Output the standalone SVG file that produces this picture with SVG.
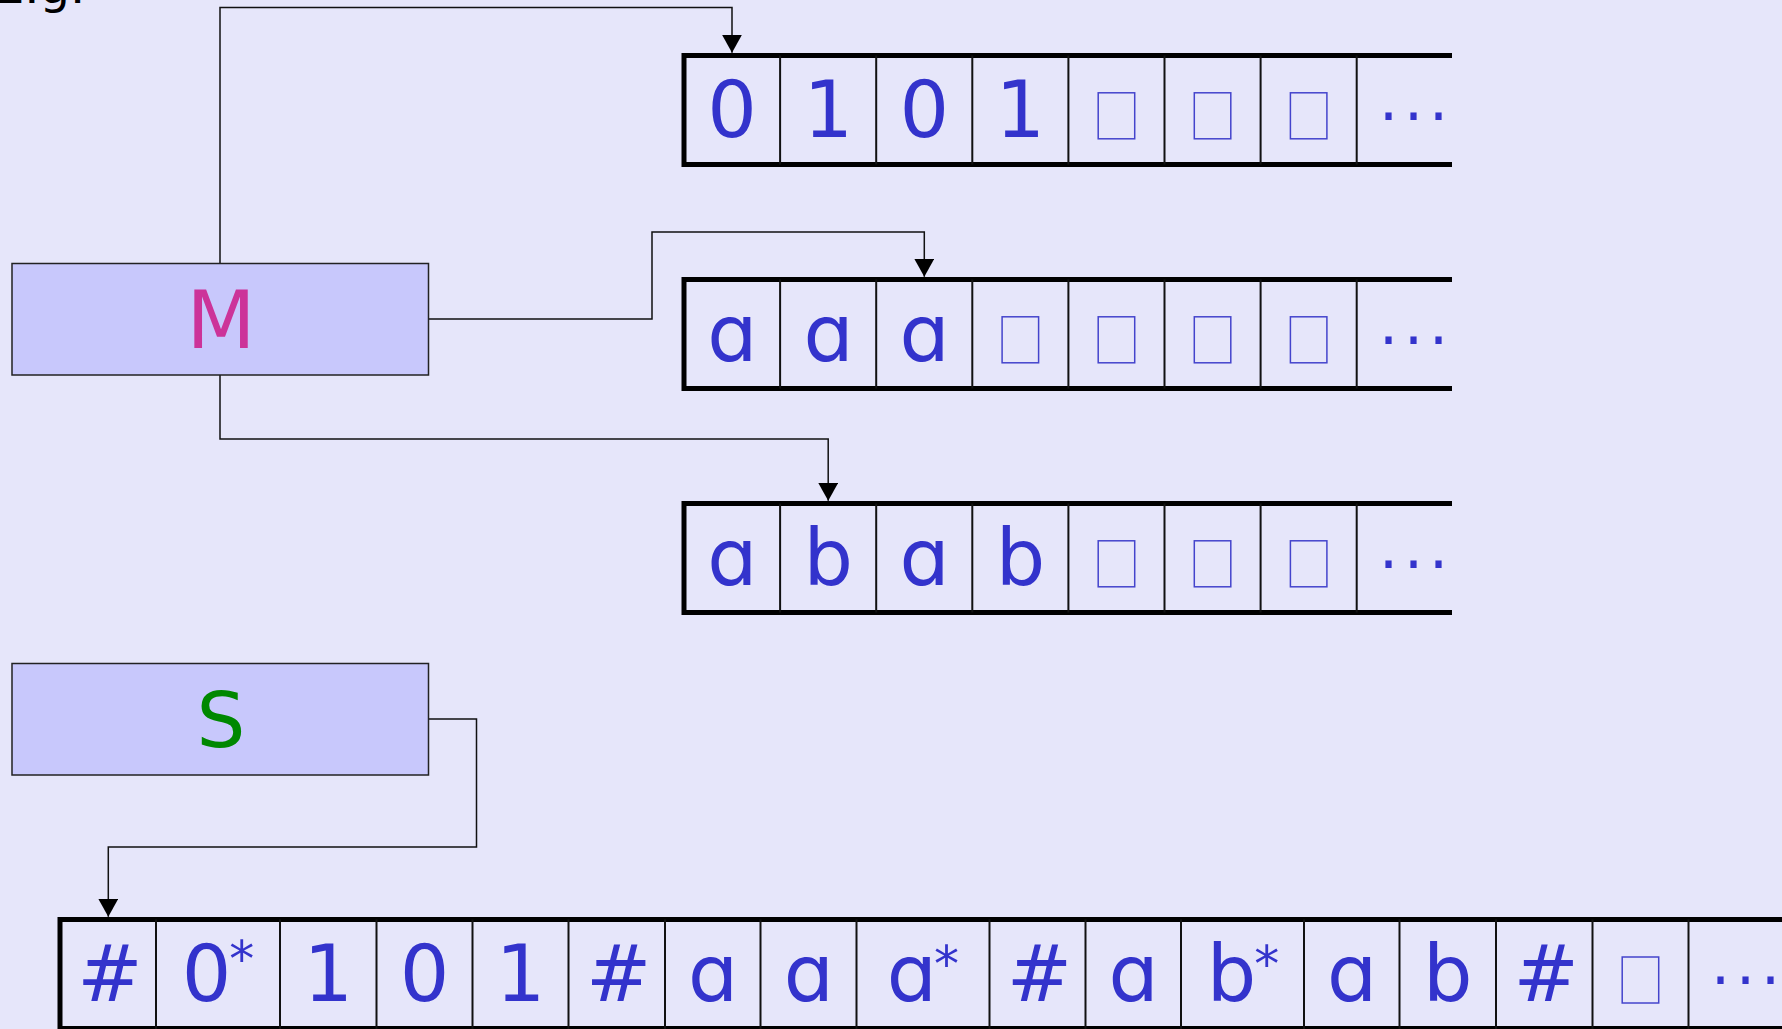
<svg xmlns="http://www.w3.org/2000/svg" width="1782" height="1029" viewBox="0 0 1782 1029">
<defs>
<style>
.bg{fill:#e6e6fa}
.box{fill:#c8c8fc;stroke:#222;stroke-width:1.5}
.thick{fill:none;stroke:#000;stroke-width:5;stroke-linejoin:miter}
.div{stroke:#111;stroke-width:2}
.sym{font-family:"DejaVu Sans",sans-serif;font-size:78px;fill:#3333cc;text-anchor:middle}
.a{font-family:"Inter","DejaVu Sans",sans-serif;font-feature-settings:"cv11" 1;font-size:80px}
.ast{font-family:"DejaVu Sans",sans-serif;font-size:50px;font-feature-settings:normal}
.blank{fill:none;stroke:#4444cc;stroke-width:1.5}
.dots{font-family:"DejaVu Sans",sans-serif;font-size:60px;fill:#3333cc}
.conn{fill:none;stroke:#111;stroke-width:1.5}
.lbl{font-family:"DejaVu Sans",sans-serif;text-anchor:middle}
</style>
<marker id="arr" markerUnits="userSpaceOnUse" markerWidth="18" markerHeight="20" viewBox="0 0 18 20" refX="18" refY="10" orient="auto">
<path d="M0,0 L18,10 L0,20 z" fill="#000"/>
</marker>
</defs>
<rect class="bg" x="0" y="0" width="1782" height="1029"/>
<text x="-6" y="3" font-family="DejaVu Sans, sans-serif" font-size="48" fill="#000">E.g.</text>

<g id="connectors">
<path class="conn" d="M220,263.5 V7.5 H732 V52.7" marker-end="url(#arr)"/>
<path class="conn" d="M428.5,319 H652 V232 H924.3 V276.8" marker-end="url(#arr)"/>
<path class="conn" d="M220,375 V439 H828.2 V500.8" marker-end="url(#arr)"/>
<path class="conn" d="M428.5,719 H476.5 V847 H108.3 V916.8" marker-end="url(#arr)"/>
</g>

<g id="M">
<rect class="box" x="12" y="263.5" width="416.5" height="111.5"/>
<text class="lbl" x="221" y="348" font-size="80" fill="#cc3399">M</text>
</g>

<g id="S">
<rect class="box" x="12" y="663.5" width="416.5" height="111.5"/>
<text class="lbl" x="221" y="747" font-size="77" fill="#008800">S</text>
</g>

<g id="tape1">
<path class="thick" d="M1452,55.5 H684 V164.5 H1452"/>
<path class="div" d="M780.1,55.5V164.5M876.2,55.5V164.5M972.3,55.5V164.5M1068.4,55.5V164.5M1164.5,55.5V164.5M1260.6,55.5V164.5M1356.7,55.5V164.5"/>
<text class="sym" x="732" y="137">0</text>
<text class="sym" x="828.2" y="137">1</text>
<text class="sym" x="924.3" y="137">0</text>
<text class="sym" x="1020.4" y="137">1</text>
<rect class="blank" x="1098.2" y="92.8" width="36.5" height="46"/>
<rect class="blank" x="1194.3" y="92.8" width="36.5" height="46"/>
<rect class="blank" x="1290.4" y="92.8" width="36.5" height="46"/>
<text class="dots" x="1379.1" y="120.4" dx="0 5.9 5.9">...</text>
</g>

<g id="tape2">
<path class="thick" d="M1452,279.5 H684 V388.5 H1452"/>
<path class="div" d="M780.1,279.5V388.5M876.2,279.5V388.5M972.3,279.5V388.5M1068.4,279.5V388.5M1164.5,279.5V388.5M1260.6,279.5V388.5M1356.7,279.5V388.5"/>
<text class="sym a" x="732" y="361">a</text>
<text class="sym a" x="828.2" y="361">a</text>
<text class="sym a" x="924.3" y="361">a</text>
<rect class="blank" x="1002.1" y="316.8" width="36.5" height="46"/>
<rect class="blank" x="1098.2" y="316.8" width="36.5" height="46"/>
<rect class="blank" x="1194.3" y="316.8" width="36.5" height="46"/>
<rect class="blank" x="1290.4" y="316.8" width="36.5" height="46"/>
<text class="dots" x="1379.1" y="344.4" dx="0 5.9 5.9">...</text>
</g>

<g id="tape3">
<path class="thick" d="M1452,503.5 H684 V612.5 H1452"/>
<path class="div" d="M780.1,503.5V612.5M876.2,503.5V612.5M972.3,503.5V612.5M1068.4,503.5V612.5M1164.5,503.5V612.5M1260.6,503.5V612.5M1356.7,503.5V612.5"/>
<text class="sym a" x="732" y="585">a</text>
<text class="sym" x="828.2" y="585">b</text>
<text class="sym a" x="924.3" y="585">a</text>
<text class="sym" x="1020.4" y="585">b</text>
<rect class="blank" x="1098.2" y="540.8" width="36.5" height="46"/>
<rect class="blank" x="1194.3" y="540.8" width="36.5" height="46"/>
<rect class="blank" x="1290.4" y="540.8" width="36.5" height="46"/>
<text class="dots" x="1379.1" y="568.4" dx="0 5.9 5.9">...</text>
</g>

<g id="tape4">
<path class="thick" d="M1790,919.5 H60 V1028.5 H1790"/>
<path class="div" d="M156,919.5V1029M280,919.5V1029M376.5,919.5V1029M472.5,919.5V1029M568.5,919.5V1029M665,919.5V1029M760.5,919.5V1029M856.5,919.5V1029M989.5,919.5V1029M1085.5,919.5V1029M1181,919.5V1029M1304,919.5V1029M1399.5,919.5V1029M1496,919.5V1029M1592.5,919.5V1029M1688.5,919.5V1029"/>
<text class="sym" x="110" y="1001">#</text>
<text class="sym" x="218" y="1001">0<tspan class="ast" dx="-2" dy="-25">*</tspan></text>
<text class="sym" x="328.2" y="1001">1</text>
<text class="sym" x="424.5" y="1001">0</text>
<text class="sym" x="520.5" y="1001">1</text>
<text class="sym" x="618.7" y="1001">#</text>
<text class="sym a" x="712.7" y="1001">a</text>
<text class="sym a" x="808.5" y="1001">a</text>
<text class="sym a" x="923" y="1001">a<tspan class="ast" dx="-2" dy="-20">*</tspan></text>
<text class="sym" x="1039.5" y="1001">#</text>
<text class="sym a" x="1133.2" y="1001">a</text>
<text class="sym" x="1243" y="1001">b<tspan class="ast" dx="-2" dy="-20">*</tspan></text>
<text class="sym a" x="1351.7" y="1001">a</text>
<text class="sym" x="1447.7" y="1001">b</text>
<text class="sym" x="1546.2" y="1001">#</text>
<rect class="blank" x="1622.2" y="957" width="36.5" height="46"/>
<text class="dots" x="1711" y="984.4" dx="0 5.9 5.9">...</text>
</g>
</svg>
